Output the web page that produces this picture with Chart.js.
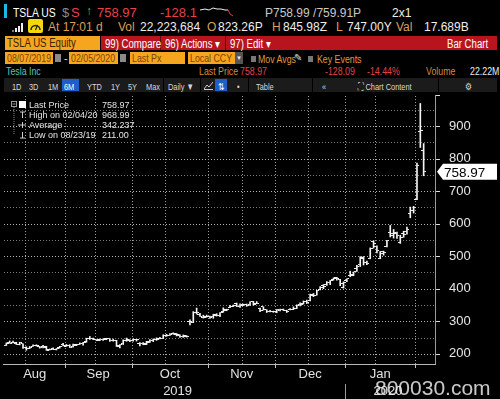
<!DOCTYPE html>
<html>
<head>
<meta charset="utf-8">
<title>TSLA US Equity - Bar Chart</title>
<script src="https://cdn.jsdelivr.net/npm/chart.js@4.4.0/dist/chart.umd.min.js"></script>
<style>
  html, body { margin: 0; padding: 0; background: #000; }
  body { position: relative; width: 500px; height: 399px; overflow: hidden; font-family: "Liberation Sans", Arial, sans-serif; }
  .t { position: absolute; white-space: nowrap; line-height: 1; }
  .r { position: absolute; }
  .n { display: inline-block; transform: scaleX(.8); transform-origin: 0 0; }
  .tan { color: #d9a15c; }
  .red { color: #e8414b; }
  .w { color: #eee; }
  .box { position: absolute; background: #f6a51f; color: #7a4300; white-space: nowrap; box-sizing: border-box; padding-left: 2px; overflow: hidden; }
  .tb { position: absolute; top: 82px; font-size: 9.5px; line-height: 1; color: #d8d8d8; white-space: nowrap; transform: scaleX(.78); transform-origin: 0 0; }
  .lg { position: absolute; font-size: 9px; line-height: 1; color: #e4e4e4; white-space: nowrap; }
  #c { position: absolute; left: 0; top: 92px; }
</style>
</head>
<body>

<!-- row 1 : ticker line -->
<div class="r" style="left:4px;top:4px;width:3px;height:14px;background:#19b8e6"></div>
<span class="t n" style="left:13px;top:6px;font-size:13px;color:#fff">TSLA US</span>
<span class="t" style="left:62px;top:6px;font-size:13px;color:#8a8a8a">$</span>
<span class="t red" style="left:71px;top:6px;font-size:13px">S</span>
<span class="t" style="left:86px;top:5px;font-size:12px;color:#33cc44">↑</span>
<span class="t red" style="left:97px;top:6px;font-size:13px">758.97</span>
<span class="t red" style="left:160px;top:6px;font-size:13px">-128.1</span>
<svg class="r" style="left:200px;top:4px" width="40" height="14">
  <polyline points="0,6 5,5 9,6 13,4 17,5 21,5 25,6 28,6" fill="none" stroke="#eee" stroke-width="1"/>
  <polyline points="28,6 30,10 33,12" fill="none" stroke="#e8414b" stroke-width="1"/>
</svg>
<span class="t" style="left:265px;top:7px;font-size:12px;color:#c8c8c8">P758.99 /759.91P</span>
<span class="t w" style="left:392px;top:7px;font-size:12px">2x1</span>

<!-- row 2 : quote line -->
<svg class="r" style="left:12px;top:23px" width="11" height="9">
  <rect x="0" y="7" width="2" height="2" fill="#777"/>
  <rect x="3" y="5" width="2" height="4" fill="#eee"/>
  <rect x="6" y="3" width="2" height="6" fill="#eee"/>
  <rect x="9" y="0" width="2" height="9" fill="#eee"/>
</svg>
<svg class="r" style="left:28px;top:19px" width="15" height="14">
  <rect x="0" y="0" width="15" height="14" rx="2" fill="#f2d80c"/>
  <path d="M3,11 A4.5,4.5 0 1 1 12,11" fill="none" stroke="#222" stroke-width="1.5"/>
  <line x1="7.5" y1="11" x2="9.5" y2="6" stroke="#222" stroke-width="1.2"/>
</svg>
<span class="t tan" style="left:48px;top:21px;font-size:12px">At 17:01 d</span>
<span class="t tan" style="left:118px;top:21px;font-size:12px">Vol</span>
<span class="t w" style="left:140px;top:21px;font-size:12px">22,223,684</span>
<span class="t tan" style="left:207px;top:21px;font-size:12px">O</span>
<span class="t w" style="left:218px;top:21px;font-size:12px">823.26P</span>
<span class="t tan" style="left:272px;top:21px;font-size:12px">H</span>
<span class="t w" style="left:283px;top:21px;font-size:12px">845.98Z</span>
<span class="t tan" style="left:336px;top:21px;font-size:12px">L</span>
<span class="t w" style="left:347px;top:21px;font-size:12px">747.00Y</span>
<span class="t tan" style="left:396px;top:21px;font-size:12px">Val</span>
<span class="t w" style="left:424px;top:21px;font-size:12px">17.689B</span>

<!-- row 3 : security / menu bar -->
<div class="box" style="left:5px;top:36px;width:95px;height:14px;font-size:12px;line-height:14px;color:#3a2400"><span class="n">TSLA US Equity</span></div>
<div class="r" style="left:101px;top:36px;width:396px;height:14px;background:#b8141d"></div>
<div class="r" style="left:160px;top:36px;width:1px;height:14px;background:#5a0a0e"></div>
<div class="r" style="left:225px;top:36px;width:1px;height:14px;background:#5a0a0e"></div>
<span class="t n" style="left:105px;top:38px;font-size:12px;color:#fff">99) Compare</span>
<span class="t n" style="left:165px;top:38px;font-size:12px;color:#fff">96) Actions ▾</span>
<span class="t n" style="left:230px;top:38px;font-size:12px;color:#fff">97) Edit ▾</span>
<span class="t n" style="left:447px;top:38px;font-size:12px;color:#fff">Bar Chart</span>

<!-- row 4 : date range / settings -->
<div class="box" style="left:5px;top:52px;width:48px;height:12px;font-size:11px;line-height:12px"><span class="n">08/07/2019</span></div>
<div class="r" style="left:55px;top:54px;width:6px;height:8px;background:#8a8a8a"></div>
<span class="t" style="left:64px;top:53px;font-size:11px;color:#ddd">-</span>
<div class="box" style="left:69px;top:52px;width:49px;height:12px;font-size:11px;line-height:12px"><span class="n">02/05/2020</span></div>
<div class="r" style="left:120px;top:54px;width:6px;height:8px;background:#8a8a8a"></div>
<div class="box" style="left:130px;top:52px;width:55px;height:12px;font-size:11px;line-height:12px"><span class="n">Last Px</span></div>
<div class="box" style="left:188px;top:52px;width:47px;height:12px;font-size:11px;line-height:12px"><span class="n">Local CCY</span></div>
<div class="r" style="left:235px;top:52px;width:8px;height:12px;background:#555"></div>
<span class="t" style="left:236px;top:55px;font-size:6px;color:#eee">▼</span>
<div class="r" style="left:251px;top:56px;width:5px;height:6px;background:#777"></div>
<span class="t n" style="left:258px;top:54px;font-size:11px;color:#e09a3e">Mov Avgs</span>
<span class="t" style="left:294px;top:53px;font-size:10px;color:#ddd">✎</span>
<div class="r" style="left:308px;top:56px;width:5px;height:6px;background:#777"></div>
<span class="t n" style="left:317px;top:54px;font-size:11px;color:#e09a3e">Key Events</span>

<!-- row 5 : name / last price -->
<span class="t n" style="left:6px;top:66px;font-size:11px;color:#5fc0b4">Tesla Inc</span>
<span class="t n" style="left:199px;top:66px;font-size:11px;color:#d48a3e">Last Price</span>
<span class="t n red" style="left:240px;top:66px;font-size:11px">758.97</span>
<span class="t n red" style="left:325px;top:66px;font-size:11px">-128.09</span>
<span class="t n red" style="left:367px;top:66px;font-size:11px">-14.44%</span>
<span class="t n" style="left:426px;top:66px;font-size:11px;color:#d48a3e">Volume</span>
<span class="t n w" style="left:470px;top:66px;font-size:11px">22.22M</span>

<!-- row 6 : toolbar -->
<div class="r" style="left:4px;top:78px;width:493px;height:14px;background:#1b1b1b"></div>
<div class="r" style="left:62px;top:79px;width:17px;height:12px;background:#1d5fc6"></div>
<div class="r" style="left:163px;top:78px;width:1px;height:14px;background:#000"></div>
<div class="r" style="left:200px;top:78px;width:1px;height:14px;background:#000"></div>
<div class="r" style="left:215px;top:79px;width:12px;height:12px;background:#1d5fc6"></div>
<div class="r" style="left:248px;top:78px;width:1px;height:14px;background:#000"></div>
<div class="r" style="left:312px;top:78px;width:1px;height:14px;background:#000"></div>
<div class="r" style="left:438px;top:78px;width:1px;height:14px;background:#000"></div>
<span class="tb" style="left:12px">1D</span>
<span class="tb" style="left:29px">3D</span>
<span class="tb" style="left:48px">1M</span>
<span class="tb" style="left:64px;color:#fff">6M</span>
<span class="tb" style="left:87px">YTD</span>
<span class="tb" style="left:111px">1Y</span>
<span class="tb" style="left:128px">5Y</span>
<span class="tb" style="left:146px">Max</span>
<span class="tb" style="left:168px">Daily ▼</span>
<svg class="r" style="left:204px;top:81px" width="9" height="9">
  <polyline points="0,8 3,4 5,6 9,1" fill="none" stroke="#ccc" stroke-width="1"/>
  <line x1="0" y1="8.5" x2="9" y2="8.5" stroke="#ccc" stroke-width="1"/>
</svg>
<span class="tb" style="left:218px;color:#fff">⇅</span>
<span class="tb" style="left:237px">•</span>
<span class="tb" style="left:256px">Table</span>
<span class="tb" style="left:322px">«</span>
<span class="tb" style="left:358px">⛶ Chart Content</span>
<span class="tb" style="left:465px">⚙</span>

<canvas id="c" width="500" height="307"></canvas>

<!-- legend box inside the plot -->
<svg class="r" style="left:10px;top:100px" width="18" height="40">
  <rect x="1.5" y="1.5" width="5" height="5" fill="none" stroke="#999" stroke-width="1"/>
  <line x1="2.5" y1="4" x2="5.5" y2="4" stroke="#999"/>
  <line x1="4" y1="7" x2="4" y2="35" stroke="#888" stroke-dasharray="1,1"/>
  <rect x="9" y="1" width="7" height="7" fill="#fff"/>
  <line x1="10" y1="12" x2="15" y2="12" stroke="#ccc"/>
  <line x1="12.5" y1="12" x2="12.5" y2="18" stroke="#ccc"/>
  <line x1="8" y1="25" x2="16" y2="25" stroke="#ccc"/>
  <line x1="12.5" y1="22" x2="12.5" y2="28" stroke="#ccc"/>
  <line x1="12.5" y1="32" x2="12.5" y2="38" stroke="#ccc"/>
  <line x1="10" y1="38" x2="15" y2="38" stroke="#ccc"/>
</svg>
<span class="lg" style="left:29px;top:101px">Last Price</span>
<span class="lg" style="left:102px;top:101px">758.97</span>
<span class="lg" style="left:29px;top:111px">High on 02/04/20</span>
<span class="lg" style="left:102px;top:111px">968.99</span>
<span class="lg" style="left:29px;top:121px">Average</span>
<span class="lg" style="left:102px;top:121px">342.237</span>
<span class="lg" style="left:29px;top:131px">Low on 08/23/19</span>
<span class="lg" style="left:102px;top:131px">211.00</span>

<span class="t" style="left:375px;top:377px;font-size:21px;color:rgba(235,235,235,0.85)">800030.com</span>

<script>
// trading days shown (MM/DD/YY)
const dates = [
  '08/07/19','08/08/19','08/09/19','08/12/19','08/13/19','08/14/19','08/15/19','08/16/19','08/19/19','08/20/19','08/21/19','08/22/19','08/23/19','08/26/19','08/27/19','08/28/19','08/29/19','08/30/19',
  '09/03/19','09/04/19','09/05/19','09/06/19','09/09/19','09/10/19','09/11/19','09/12/19','09/13/19','09/16/19','09/17/19','09/18/19','09/19/19','09/20/19','09/23/19','09/24/19','09/25/19','09/26/19','09/27/19','09/30/19',
  '10/01/19','10/02/19','10/03/19','10/04/19','10/07/19','10/08/19','10/09/19','10/10/19','10/11/19','10/14/19','10/15/19','10/16/19','10/17/19','10/18/19','10/21/19','10/22/19','10/23/19','10/24/19','10/25/19','10/28/19','10/29/19','10/30/19','10/31/19',
  '11/01/19','11/04/19','11/05/19','11/06/19','11/07/19','11/08/19','11/11/19','11/12/19','11/13/19','11/14/19','11/15/19','11/18/19','11/19/19','11/20/19','11/21/19','11/22/19','11/25/19','11/26/19','11/27/19','11/29/19',
  '12/02/19','12/03/19','12/04/19','12/05/19','12/06/19','12/09/19','12/10/19','12/11/19','12/12/19','12/13/19','12/16/19','12/17/19','12/18/19','12/19/19','12/20/19','12/23/19','12/24/19','12/26/19','12/27/19','12/30/19','12/31/19',
  '01/02/20','01/03/20','01/06/20','01/07/20','01/08/20','01/09/20','01/10/20','01/13/20','01/14/20','01/15/20','01/16/20','01/17/20','01/21/20','01/22/20','01/23/20','01/24/20','01/27/20','01/28/20','01/29/20','01/30/20','01/31/20',
  '02/03/20','02/04/20','02/05/20'
];
const opens = [
  226.5,234.5,236.1,233.0,228.8,231.3,221.1,217.0,224.2,227.0,222.0,222.8,220.0,213.6,215.3,213.7,219.0,229.2,
  224.1,226.8,222.5,227.2,230.0,230.8,237.4,247.6,246.3,244.0,242.5,245.0,246.0,246.5,240.0,241.5,224.6,230.7,242.2,243.0,
  241.5,243.3,231.9,231.6,229.8,235.5,241.2,245.4,247.4,247.9,257.7,257.4,262.5,260.7,258.3,254.3,254.5,298.4,297.7,327.5,320.0,313.0,313.1,
  314.6,314.8,319.6,318.0,329.1,334.5,344.0,346.9,355.0,346.1,350.6,352.9,351.9,360.0,354.5,340.2,344.3,335.3,331.1,331.1,
  329.4,332.6,337.8,332.8,335.0,336.6,340.0,351.1,354.9,361.1,362.6,379.0,380.6,397.3,410.3,411.8,418.4,427.9,435.0,428.8,405.0,
  424.5,440.5,440.5,461.4,473.7,497.1,481.8,493.5,544.3,529.8,493.8,507.6,530.3,571.9,564.3,570.6,542.0,568.5,575.7,632.4,640.0,
  673.7,883.0,823.26
];
const highs = [
  233.6,239.8,239.0,235.8,236.0,231.3,221.8,222.7,227.8,228.0,223.0,226.0,223.6,215.0,218.8,216.3,223.4,232.4,
  229.0,228.4,229.8,229.6,233.8,235.9,248.2,253.5,248.7,244.0,245.9,246.5,248.0,246.8,245.2,242.0,229.0,243.3,248.7,243.3,
  246.0,244.7,234.5,234.8,238.7,243.8,246.0,249.3,250.7,258.9,260.0,262.1,264.8,262.8,258.5,258.3,256.1,304.9,330.0,340.8,324.3,318.8,319.0,
  316.0,321.9,323.5,326.7,341.5,337.5,349.2,350.0,356.3,353.8,352.8,353.2,360.2,361.2,360.8,341.0,344.6,335.5,333.9,331.3,
  336.4,337.9,337.9,334.4,338.9,344.5,350.7,356.6,362.7,365.2,383.6,385.5,395.2,406.9,413.0,422.0,425.5,433.5,435.3,429.0,421.3,
  430.7,454.0,451.6,471.6,498.5,498.8,484.9,525.6,547.4,531.9,514.5,515.7,548.6,594.5,582.0,573.9,564.4,576.8,589.8,650.9,653.0,
  786.1,968.99,845.98
];
const lows = [
  225.8,232.7,233.8,228.8,227.6,216.6,211.1,216.3,222.7,224.1,217.7,218.1,211.0,212.0,213.2,212.0,217.7,224.2,
  223.1,219.6,220.9,225.2,229.2,226.6,236.0,244.3,243.7,240.7,240.5,241.1,243.4,238.5,239.2,222.6,218.4,228.7,238.7,237.6,
  239.1,239.4,224.3,228.1,228.5,235.3,237.7,241.6,246.3,247.1,254.1,256.9,260.2,255.1,250.9,250.9,251.4,289.2,296.1,322.6,314.8,310.0,313.0,
  308.8,309.3,316.1,314.5,328.0,332.5,342.0,345.3,345.2,342.9,348.4,346.1,349.1,349.6,354.0,330.0,334.5,327.1,328.6,327.5,
  326.4,332.2,332.9,327.3,334.8,335.9,339.1,347.3,353.2,354.6,362.5,375.9,380.6,396.5,400.2,410.0,412.7,426.4,426.1,409.3,402.1,
  421.7,436.9,440.0,453.4,468.2,472.9,473.7,492.0,524.9,510.0,492.2,503.2,528.4,559.1,555.6,554.3,539.3,558.1,567.4,618.0,632.5,
  673.5,833.9,747.0
];
const closes = [
  230.8,233.4,235.0,229.0,235.0,219.6,215.6,219.9,226.8,225.9,220.8,222.2,211.4,215.0,214.1,215.6,221.7,225.6,
  225.0,220.7,229.6,227.5,231.8,235.5,247.1,245.9,245.2,242.8,244.8,243.5,246.6,240.6,241.2,223.2,228.7,242.6,242.1,240.9,
  244.7,243.1,233.0,231.4,237.7,240.1,244.5,244.7,247.9,257.0,257.9,259.8,262.0,257.0,253.5,255.6,254.7,299.7,328.1,327.7,316.2,315.0,314.9,
  313.3,317.5,317.2,326.6,335.5,337.1,345.1,349.9,346.1,349.4,352.2,350.0,359.5,352.2,354.8,333.0,336.3,328.9,331.3,329.9,
  334.9,336.2,333.0,330.4,335.9,339.5,348.8,352.7,359.7,358.4,381.5,379.0,393.2,404.0,405.6,419.2,425.3,430.9,430.4,414.7,418.3,
  430.3,443.0,451.5,469.1,492.1,481.3,478.2,524.9,537.9,518.5,513.5,510.5,547.2,569.6,572.2,564.8,558.0,566.9,581.0,640.8,650.6,
  780.0,887.1,758.97
];
const monthLabels = ['Aug', 'Sep', 'Oct', 'Nov', 'Dec', 'Jan'];
const yearLabels = ['2019', '2020'];
const priceLabels = [200, 300, 400, 500, 600, 700, 800, 900];

// month edges and mid-month (15th) grid positions from the dates
const edges = [-0.5];
const gridTicks = [];
for (let i = 1; i < dates.length; i++) {
  const m = +dates[i].slice(0, 2), pm = +dates[i - 1].slice(0, 2);
  const d = +dates[i].slice(3, 5), pd = +dates[i - 1].slice(3, 5);
  if (m !== pm) { edges.push(i - 0.5); gridTicks.push({ value: i - 0.5, edge: true }); }
  else if (d >= 15 && pd < 15) gridTicks.push({ value: i - 0.5, edge: false });
}
const monthPos = monthLabels.map((m, k) => (edges[k] + edges[k + 1]) / 2);
const yearTicks = [monthPos[2] + 2.3, edges[5], monthPos[5] + 2.3];
const yearText = [yearLabels[0], '', yearLabels[1]];
const priceGrid = [];
priceLabels.forEach(v => { priceGrid.push(v); priceGrid.push(v + 50); });

const FONT = '"Liberation Sans", Arial, sans-serif';
const noPad = s => { s.paddingLeft = 0; s.paddingRight = 0; s.paddingTop = 0; s.paddingBottom = 0; };

// open tick (left) and close tick (right) as small point images
function tickImage(side) {
  const cv = document.createElement('canvas');
  cv.width = 5; cv.height = 1;
  const g = cv.getContext('2d');
  g.fillStyle = '#f0f0f0';
  g.fillRect(side < 0 ? 0 : 3, 0, 2, 1);
  return cv;
}

// dotted grid, axis lines and tick marks placed with the chart's own scales
const gridDots = {
  id: 'gridDots',
  beforeDatasetsDraw(chart) {
    const { ctx, chartArea: a, scales: { x, y } } = chart;
    const bottom = Math.round(a.bottom), right = Math.round(a.right);
    ctx.save();
    priceGrid.forEach(v => {
      const py = Math.round(y.getPixelForValue(v));
      ctx.fillStyle = priceLabels.includes(v) ? '#b4b4b4' : '#7c7c7c';
      for (let px = Math.round(a.left) + 1; px < right; px += 3) ctx.fillRect(px, py, 1, 1);
    });
    gridTicks.forEach(t => {
      const px = Math.round(x.getPixelForValue(t.value));
      ctx.fillStyle = '#9c9c9c';
      for (let py = Math.round(a.top) + 1; py < bottom; py += 3) ctx.fillRect(px, py, 1, 1);
      if (t.edge) { ctx.fillStyle = '#c4c4c4'; ctx.fillRect(px, bottom, 1, 4); }
    });
    ctx.fillStyle = '#b8b8b8';
    ctx.fillRect(Math.round(a.left), bottom, right - Math.round(a.left) + 1, 1);
    ctx.fillStyle = '#9a9a9a';
    ctx.fillRect(right, Math.round(a.top), 1, bottom - Math.round(a.top));
    ctx.fillStyle = '#dddddd';
    priceLabels.forEach(v => ctx.fillRect(right + 1, Math.round(y.getPixelForValue(v)), 4, 1));
    ctx.fillRect(right + 1, Math.round(a.top), 4, 1);
    ctx.restore();
  }
};

const lastBox = {
  id: 'lastBox',
  afterDraw(chart) {
    const c = chart.ctx, a = chart.chartArea;
    const last = closes[closes.length - 1];
    const y = chart.scales.y.getPixelForValue(last);
    const x0 = a.right + 2;
    c.save();
    c.fillStyle = '#fff';
    c.beginPath();
    c.moveTo(x0, y);
    c.lineTo(x0 + 6, y - 8);
    c.lineTo(497, y - 8);
    c.lineTo(497, y + 8);
    c.lineTo(x0 + 6, y + 8);
    c.closePath();
    c.fill();
    c.fillStyle = '#000';
    c.font = '13.5px ' + FONT;
    c.textBaseline = 'middle';
    c.fillText(last.toFixed(2), x0 + 7, y + 1);
    c.restore();
  }
};

const xBase = { type: 'linear', position: 'bottom', axis: 'x', min: -1, max: 128.4, offset: false };

new Chart(document.getElementById('c'), {
  type: 'scatter',
  data: {
    datasets: [
      {
        type: 'bar',
        data: lows.map((l, i) => ({ x: i, y: [l, highs[i]] })),
        backgroundColor: '#f4f4f4',
        borderWidth: 0,
        barThickness: 1,
        xAxisID: 'x', yAxisID: 'y'
      },
      {
        type: 'scatter',
        data: opens.map((o, i) => ({ x: i, y: o })),
        pointStyle: tickImage(-1), pointRadius: 2, pointHoverRadius: 2,
        xAxisID: 'x', yAxisID: 'y'
      },
      {
        type: 'scatter',
        data: closes.map((cl, i) => ({ x: i, y: cl })),
        pointStyle: tickImage(1), pointRadius: 2, pointHoverRadius: 2,
        xAxisID: 'x', yAxisID: 'y'
      }
    ]
  },
  options: {
    responsive: false,
    animation: false,
    events: [],
    layout: { padding: { top: 3, left: 0, right: 0, bottom: 0 } },
    plugins: { legend: { display: false }, tooltip: { enabled: false } },
    scales: {
      x: Object.assign({}, xBase, {
        weight: 0,
        afterBuildTicks: s => { s.ticks = gridTicks.map(t => ({ value: t.value })); },
        afterFit: s => { s.height = 3; noPad(s); },
        ticks: { display: false },
        grid: { display: false, offset: false },
        border: { display: false }
      }),
      xm: Object.assign({}, xBase, {
        weight: 1,
        afterBuildTicks: s => { s.ticks = monthPos.map(v => ({ value: v })); },
        afterFit: s => { s.height = 17; noPad(s); },
        ticks: {
          autoSkip: false, maxRotation: 0, padding: 0,
          color: '#e2e2e2', font: { family: FONT, size: 13 },
          callback: (v, i) => monthLabels[i]
        },
        grid: { display: false, drawTicks: false, offset: false },
        border: { display: false }
      }),
      xy: Object.assign({}, xBase, {
        weight: 2,
        afterBuildTicks: s => { s.ticks = yearTicks.map(v => ({ value: v })); },
        afterFit: s => { s.height = 15; noPad(s); },
        ticks: {
          autoSkip: false, maxRotation: 0, padding: -15,
          color: '#e2e2e2', font: { family: FONT, size: 13 },
          callback: (v, i) => yearText[i]
        },
        grid: {
          display: true, offset: false, drawOnChartArea: false, tickLength: 15, color: 'rgba(0,0,0,0)',
          tickColor: ctx => yearText[ctx.index] === '' ? '#9a9a9a' : 'rgba(0,0,0,0)'
        },
        border: { display: false }
      }),
      y: {
        type: 'linear', position: 'right',
        min: 169, max: 995,
        afterBuildTicks: s => { s.ticks = priceGrid.map(v => ({ value: v })); },
        afterFit: s => { s.width = 65; noPad(s); },
        ticks: {
          padding: 6, color: '#e6e6e6',
          font: { family: FONT, size: 13 },
          callback: v => priceLabels.includes(v) ? String(v) : ''
        },
        grid: { display: false },
        border: { display: false }
      }
    }
  },
  plugins: [gridDots, lastBox]
});
</script>
</body>
</html>
